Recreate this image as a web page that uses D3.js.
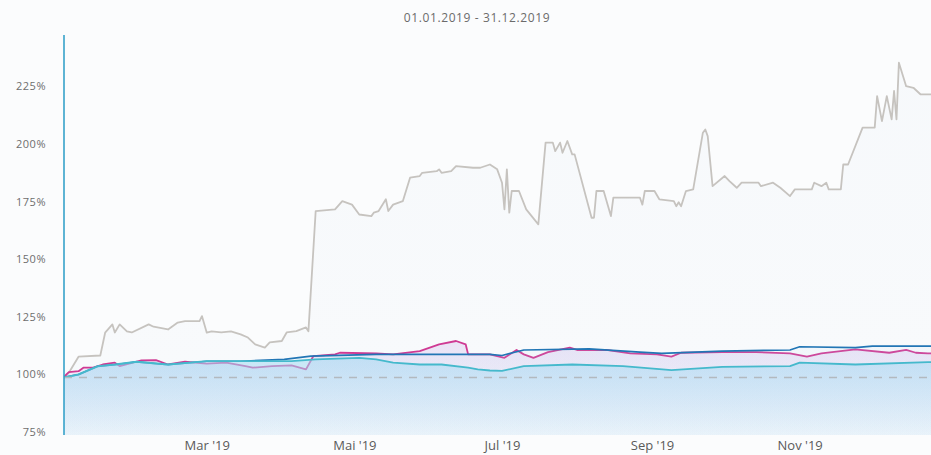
<!DOCTYPE html>
<html>
<head>
<meta charset="utf-8">
<script src="https://cdn.jsdelivr.net/npm/d3@7/dist/d3.min.js"></script>
<style>
  html, body { margin: 0; padding: 0; background: #fbfcfd; }
  svg { display: block; }
  text { font-family: "Open Sans", "DejaVu Sans", sans-serif; }
</style>
</head>
<body>
<svg id="chart" width="931" height="455"></svg>
<script>
const chartTitle = "01.01.2019 - 31.12.2019";
const yTicks = [75, 100, 125, 150, 175, 200, 225];
const xTickDates = ["2019-03-01", "2019-05-01", "2019-07-01", "2019-09-01", "2019-11-01"];
const xTickLabels = ["Mar '19", "Mai '19", "Jul '19", "Sep '19", "Nov '19"];
const baselineValue = 100;

const graySeries = [
  ["2019-01-01",100],["2019-01-03",102],["2019-01-07",109],["2019-01-16",109.5],["2019-01-18",119.4],
  ["2019-01-21",123],["2019-01-22",119.5],["2019-01-24",123],["2019-01-27",120],["2019-01-29",119.5],
  ["2019-02-05",123],["2019-02-07",122],["2019-02-13",120.8],["2019-02-17",123.8],["2019-02-20",124.4],
  ["2019-02-26",124.4],["2019-02-27",126.6],["2019-03-01",119.4],["2019-03-03",120],["2019-03-07",119.5],
  ["2019-03-11",120],["2019-03-15",118.7],["2019-03-18",117.3],["2019-03-21",114.3],["2019-03-25",112.9],
  ["2019-03-27",115.2],["2019-04-01",115.8],["2019-04-03",119.5],["2019-04-07",120.1],["2019-04-11",121.7],
  ["2019-04-12",120],["2019-04-15",172.2],["2019-04-23",172.9],["2019-04-26",176.5],["2019-04-30",175],
  ["2019-05-03",170.7],["2019-05-08",170],["2019-05-09",171.5],["2019-05-11",172.2],["2019-05-14",177.3],
  ["2019-05-15",172.2],["2019-05-17",175],["2019-05-21",176.5],["2019-05-24",186.7],["2019-05-28",187.4],
  ["2019-05-29",188.8],["2019-06-04",189.5],["2019-06-05",190.3],["2019-06-06",188.8],["2019-06-10",189.5],
  ["2019-06-12",191.7],["2019-06-19",191],["2019-06-22",191],["2019-06-26",192.4],["2019-06-29",190.3],
  ["2019-07-01",184.5],["2019-07-02",172.9],["2019-07-03",190.3],["2019-07-04",171.5],["2019-07-05",180.9],
  ["2019-07-08",180.9],["2019-07-11",172.9],["2019-07-16",166.4],["2019-07-19",201.9],["2019-07-22",201.9],
  ["2019-07-23",198.2],["2019-07-25",201.9],["2019-07-26",197.5],["2019-07-28",202.6],["2019-07-30",196.8],
  ["2019-07-31",196.8],["2019-08-07",169.3],["2019-08-08",169.3],["2019-08-09",180.9],["2019-08-12",180.9],
  ["2019-08-15",170],["2019-08-16",178],["2019-08-27",178],["2019-08-28",175],["2019-08-29",180.9],
  ["2019-09-02",180.9],["2019-09-04",177.3],["2019-09-10",176.5],["2019-09-11",174.3],["2019-09-12",176],
  ["2019-09-13",174.3],["2019-09-15",180.9],["2019-09-18",181.6],["2019-09-22",206.2],["2019-09-23",207.6],
  ["2019-09-24",204.7],["2019-09-26",183],["2019-10-01",187.4],["2019-10-03",185.2],["2019-10-06",182.3],
  ["2019-10-08",184.5],["2019-10-15",184.5],["2019-10-16",183],["2019-10-21",184.5],["2019-10-24",182.3],
  ["2019-10-28",178.7],["2019-10-30",181.6],["2019-11-06",181.6],["2019-11-07",184.5],["2019-11-10",183],
  ["2019-11-12",184.5],["2019-11-13",181.6],["2019-11-18",181.6],["2019-11-19",192.4],["2019-11-21",192.4],
  ["2019-11-27",208.4],["2019-12-02",208.4],["2019-12-03",222.1],["2019-12-05",211.2],["2019-12-07",222.1],
  ["2019-12-09",212],["2019-12-10",224.3],["2019-12-11",212],["2019-12-12",236.6],["2019-12-15",226.4],
  ["2019-12-18",225.7],["2019-12-21",222.8],["2019-12-24",222.8],["2019-12-31",222.8]
];

const pinkSeries = [
  ["2019-01-01",100],["2019-01-02",101.3],["2019-01-03",102.3],["2019-01-07",102.7],["2019-01-09",104.2],
  ["2019-01-13",104.2],["2019-01-17",105.6],["2019-01-22",106.4],["2019-01-24",104.9],["2019-02-02",107.4],
  ["2019-02-08",107.5],["2019-02-13",105.6],["2019-02-20",106.8],["2019-03-01",106],["2019-03-09",106.4],
  ["2019-03-17",104.9],["2019-03-20",104.2],["2019-03-28",104.9],["2019-04-05",105.2],["2019-04-11",103.5],
  ["2019-04-14",109.2],["2019-04-23",110],["2019-04-25",110.7],["2019-05-10",110.4],["2019-05-17",110],
  ["2019-05-28",111.4],["2019-06-05",114.3],["2019-06-12",115.8],["2019-06-16",114.3],["2019-06-17",110],
  ["2019-06-26",110],["2019-07-02",108.5],["2019-07-07",111.9],["2019-07-10",110],["2019-07-14",108.5],
  ["2019-07-20",111],["2019-07-29",112.9],["2019-08-01",111.9],["2019-08-13",111.9],["2019-08-23",110.4],
  ["2019-09-03",110],["2019-09-09",109],["2019-09-13",110.7],["2019-09-30",111],["2019-10-14",111],
  ["2019-10-28",110.4],["2019-11-04",109],["2019-11-10",110.4],["2019-11-24",112.2],["2019-12-08",110.7],
  ["2019-12-15",111.9],["2019-12-19",110.7],["2019-12-24",110.4],["2019-12-31",110.4]
];

const blueSeries = [
  ["2019-01-01",100],["2019-01-07",101.2],["2019-01-15",104.8],["2019-01-22",105.5],["2019-01-31",106.7],
  ["2019-02-13",105.5],["2019-03-01",107],["2019-03-15",107],["2019-04-02",107.8],["2019-04-13",109.2],
  ["2019-05-10",110],["2019-05-30",110],["2019-06-26",110],["2019-07-01",109.5],["2019-07-10",111.9],
  ["2019-08-06",112.4],["2019-08-27",111],["2019-09-05",110.4],["2019-09-30",111.4],["2019-10-28",111.9],
  ["2019-11-01",113.3],["2019-11-24",112.9],["2019-12-01",113.6],["2019-12-31",113.6]
];

const tealSeries = [
  ["2019-01-01",100],["2019-01-07",101.3],["2019-01-15",104.9],["2019-01-22",105.6],["2019-01-31",106.8],
  ["2019-02-13",105.6],["2019-03-01",107.1],["2019-03-15",107.1],["2019-04-05",107.1],["2019-04-15",107.8],
  ["2019-05-03",108.5],["2019-05-10",107.8],["2019-05-17",106.4],["2019-05-28",105.6],["2019-06-06",105.6],
  ["2019-06-17",104.2],["2019-06-21",103.5],["2019-06-26",103],["2019-07-01",102.8],["2019-07-10",104.9],
  ["2019-07-30",105.6],["2019-08-20",104.9],["2019-09-09",103.2],["2019-09-30",104.6],["2019-10-28",104.9],
  ["2019-11-01",106.4],["2019-11-24",105.6],["2019-12-24",106.6],["2019-12-31",106.6]
];

const parse = d3.timeParse("%Y-%m-%d");
const svg = d3.select("#chart");
const plot = { left: 64, right: 931, top: 35, bottom: 435 };

const x = d3.scaleTime()
  .domain([parse("2019-01-01"), parse("2019-12-31")])
  .range([plot.left, plot.left + 364 * 2.42]);
const y = d3.scaleLinear().domain([75, 250]).range([plot.bottom, plot.bottom - 7 * 57.6]);

const defs = svg.append("defs");
defs.append("clipPath").attr("id", "clip")
  .append("rect").attr("x", plot.left).attr("y", plot.top)
  .attr("width", plot.right - plot.left).attr("height", plot.bottom - plot.top);

function grad(id, color, o1, o2) {
  const g = defs.append("linearGradient").attr("id", id)
    .attr("x1", 0).attr("y1", 0).attr("x2", 0).attr("y2", 1);
  g.append("stop").attr("offset", "0%").attr("stop-color", color).attr("stop-opacity", o1);
  g.append("stop").attr("offset", "100%").attr("stop-color", color).attr("stop-opacity", o2);
}
grad("gGray", "#eef3f8", 0.35, 0.2);
grad("gPink", "#dccdf0", 0.5, 0.05);
grad("gBlue", "#b5d6f0", 0.1, 0.03);
grad("gTeal", "#a3daf3", 0.55, 0.15);

// Title
svg.append("text").attr("x", 477).attr("y", 22).attr("text-anchor", "middle")
  .attr("font-size", 12).attr("fill", "#6b6b6b").attr("letter-spacing", "0.6")
  .text(chartTitle);

// Y labels
svg.append("g").selectAll("text").data(yTicks).join("text")
  .attr("x", 46).attr("y", d => y(d) + 1)
  .attr("text-anchor", "end").attr("font-size", 11).attr("fill", "#6e6e6e")
  .attr("letter-spacing", "0.5")
  .text(d => d + "%");

// X labels
const xAxis = d3.axisBottom(x)
  .tickValues(xTickDates.map(parse))
  .tickFormat((d, i) => xTickLabels[i])
  .tickSize(0).tickPadding(0);
const gx = svg.append("g").attr("transform", `translate(0,${plot.bottom})`).call(xAxis);
gx.select(".domain").remove();
gx.selectAll("text").attr("font-size", 13).attr("fill", "#5a5a5a")
  .attr("font-family", "'Open Sans', sans-serif").attr("dy", null).attr("y", 15);

const g = svg.append("g").attr("clip-path", "url(#clip)");

const series = [
  { data: graySeries, color: "#c6c3bf", fill: "url(#gGray)", w: 1.8 },
  { data: pinkSeries, color: "#cf3a93", fill: "url(#gPink)", w: 1.8 },
  { data: blueSeries, color: "#2276b5", fill: "url(#gBlue)", w: 1.7 },
  { data: tealSeries, color: "#45b9cc", fill: "url(#gTeal)", w: 1.8 }
];

const area = d3.area().x(d => x(parse(d[0]))).y0(plot.bottom).y1(d => y(d[1]));
const line = d3.line().x(d => x(parse(d[0]))).y(d => y(d[1]));

// gray area + line first
g.append("path").datum(graySeries).attr("d", area).attr("fill", "url(#gGray)");
g.append("path").datum(graySeries).attr("d", line).attr("fill", "none")
  .attr("stroke", series[0].color).attr("stroke-width", series[0].w).attr("stroke-linejoin", "round");

// other series: area then line, so each translucent fill tints the lines drawn before it
series.slice(1).forEach(s => {
  g.append("path").datum(s.data).attr("d", area).attr("fill", s.fill);
  g.append("path").datum(s.data).attr("d", line).attr("fill", "none")
    .attr("stroke", s.color).attr("stroke-width", s.w).attr("stroke-linejoin", "round");
});

// dashed baseline
g.append("line")
  .attr("x1", plot.left).attr("x2", plot.right)
  .attr("y1", y(baselineValue)).attr("y2", y(baselineValue))
  .attr("stroke", "#b3b9bf").attr("stroke-width", 1.5).attr("stroke-dasharray", "8,7");

// Y axis line
svg.append("line").attr("x1", plot.left).attr("x2", plot.left)
  .attr("y1", plot.top).attr("y2", plot.bottom)
  .attr("stroke", "#2a9cc6").attr("stroke-width", 1.5);
</script>
</body>
</html>
